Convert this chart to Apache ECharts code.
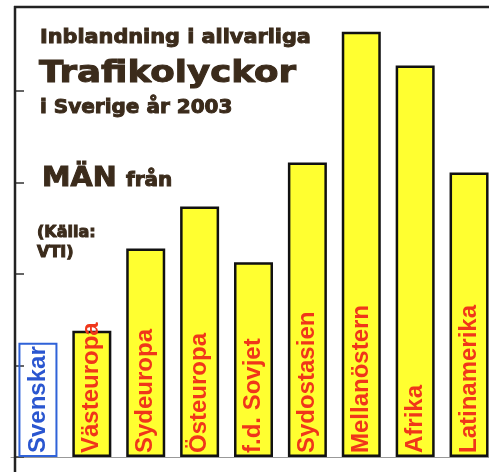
<!DOCTYPE html>
<html>
<head>
<meta charset="utf-8">
<script src="https://cdn.jsdelivr.net/npm/echarts@6/dist/echarts.min.js"></script>
<style>
  html, body { margin: 0; padding: 0; background: #fff; }
  #chart { width: 489px; height: 472px; }
</style>
</head>
<body>
<div id="chart"></div>
<script>
// ursprung (kategori) och relativ inblandning
var regions = ["Svenskar", "Västeuropa", "Sydeuropa", "Östeuropa", "f.d. Sovjet", "Sydostasien", "Mellanöstern", "Afrika", "Latinamerika"]
var values = [1.25, 1.38, 2.28, 2.74, 2.13, 3.22, 4.65, 4.28, 3.11]
var yTicks = [0, 1, 2, 3, 4]

var titleColor = '#3b2b1b'
var chartDom = document.getElementById('chart')
var myChart = echarts.init(chartDom)

var barData = []
for (var i = 0; i < regions.length; i++) {
    if (regions[i] == "Svenskar") {
        barData.push({
            value: values[i],
            itemStyle: { color: 'rgba(255,255,255,0)', borderColor: '#2f62d8', borderWidth: 2 },
            label: { color: '#2a56d0' }
        })
    } else {
        barData.push(values[i])
    }
}

// rubriktext, sx = horisontell sträckning (originalet har ett bredare typsnitt)
function txt(text, x, y, font, sx) {
    return {
        type: 'text',
        x: x,
        y: y,
        scaleX: sx || 1,
        style: { text: text, font: font, fill: titleColor, stroke: titleColor, lineWidth: 1, verticalAlign: 'bottom' },
        z: 10
    }
}

var option = {
    backgroundColor: '#fff',
    animation: false,
    grid: { left: 11, right: -7, top: 7, bottom: 15, outerBoundsMode: 'none' },
    xAxis: {
        type: 'category',
        data: regions,
        axisLine: { lineStyle: { color: '#999', width: 1 } },
        axisTick: { inside: true, length: 6, lineStyle: { color: '#888' } },
        axisLabel: { show: false }
    },
    yAxis: {
        type: 'value',
        min: yTicks[0],
        max: 4.92,
        interval: 1,
        offset: -4,
        axisLine: { show: false },
        axisTick: { show: true, inside: true, length: 9, lineStyle: { color: '#333', width: 1.5 } },
        axisLabel: { show: false },
        splitLine: { show: false }
    },
    series: [{
        type: 'bar',
        data: barData,
        barWidth: 39,
        itemStyle: { color: '#ffff30', borderColor: '#111', borderWidth: 2.5 },
        label: {
            show: true,
            position: 'insideBottom',
            distance: 4,
            rotate: 90,
            align: 'left',
            verticalAlign: 'middle',
            formatter: '{b}',
            fontFamily: 'Liberation Sans',
            fontWeight: 'bold',
            fontSize: 24,
            color: '#f0361a'
        }
    }],
    graphic: [
        { type: 'line', shape: { x1: 15, y1: 6, x2: 15, y2: 472 }, style: { stroke: '#222', lineWidth: 2.5 }, z: 20 },
        { type: 'line', shape: { x1: 14, y1: 7, x2: 489, y2: 7 }, style: { stroke: '#222', lineWidth: 2.5 }, z: 20 },
        txt("Inblandning i allvarliga", 40, 48, 'bold 20px "DejaVu Sans"', 1.04),
        txt("Trafikolyckor", 39, 89, 'bold 31px "DejaVu Sans"', 1.15),
        txt("i Sverige år 2003", 40, 118, 'bold 20px "DejaVu Sans"', 1.0),
        txt("MÄN", 42, 192, 'bold 27px "DejaVu Sans"', 1.06),
        txt("från", 126, 191, 'bold 20px "DejaVu Sans"'),
        txt("(Källa:", 37, 241, 'bold 16px "DejaVu Sans"'),
        txt("VTI)", 37, 261, 'bold 16px "DejaVu Sans"')
    ]
}

option && myChart.setOption(option)
</script>
</body>
</html>
